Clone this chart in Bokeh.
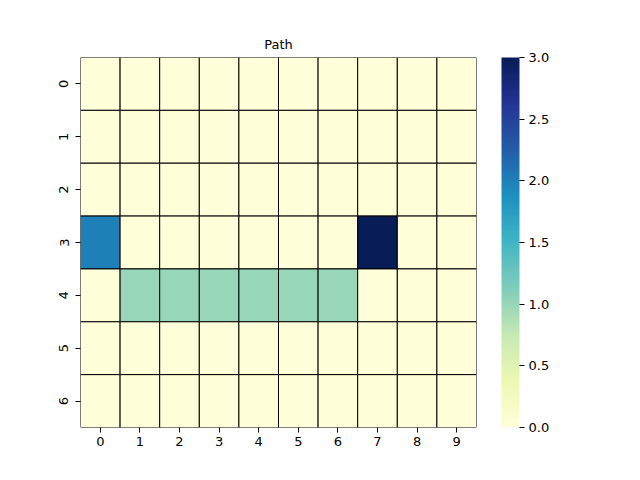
from bokeh.plotting import figure
from bokeh.models import (ColumnDataSource, LinearColorMapper, ColorBar, FixedTicker,
                          PrintfTickFormatter, Range1d)
from bokeh.transform import transform
from bokeh.embed import file_html
from bokeh.resources import INLINE

# --- data ---
row_labels = ["0", "1", "2", "3", "4", "5", "6"]
col_labels = ["0", "1", "2", "3", "4", "5", "6", "7", "8", "9"]
row0 = [0, 0, 0, 0, 0, 0, 0, 0, 0, 0]
row1 = [0, 0, 0, 0, 0, 0, 0, 0, 0, 0]
row2 = [0, 0, 0, 0, 0, 0, 0, 0, 0, 0]
row3 = [2, 0, 0, 0, 0, 0, 0, 3, 0, 0]
row4 = [0, 1, 1, 1, 1, 1, 1, 0, 0, 0]
row5 = [0, 0, 0, 0, 0, 0, 0, 0, 0, 0]
row6 = [0, 0, 0, 0, 0, 0, 0, 0, 0, 0]
rows_values = [row0, row1, row2, row3, row4, row5, row6]
cbar_ticks = [0.0, 0.5, 1.0, 1.5, 2.0, 2.5, 3.0]

# --- YlGnBu colormap (light -> dark), interpolated to 256 ---
base = ['#ffffd9', '#edf8b1', '#c7e9b4', '#7fcdbb', '#41b6c4',
        '#1d91c0', '#225ea8', '#253494', '#081d58']
def h2rgb(h):
    return [int(h[i:i + 2], 16) for i in (1, 3, 5)]
rgb = [h2rgb(c) for c in base]
palette = []
for k in range(256):
    t = k / 255 * (len(rgb) - 1)
    i = min(int(t), len(rgb) - 2)
    f = t - i
    c = [round(rgb[i][j] * (1 - f) + rgb[i + 1][j] * f) for j in range(3)]
    palette.append('#%02x%02x%02x' % tuple(c))

xs, ys, vs = [], [], []
for r, rowv in enumerate(rows_values):
    for c, v in enumerate(rowv):
        xs.append(c + 0.5)
        ys.append(r + 0.5)
        vs.append(v)
src = ColumnDataSource(dict(x=xs, y=ys, v=vs))

mapper = LinearColorMapper(palette=palette, low=0, high=3)

p = figure(width=632, height=472, output_backend="svg", toolbar_location=None,
           x_range=Range1d(0, len(col_labels)), y_range=Range1d(len(row_labels), 0),
           title="Path", min_border_left=80, min_border_right=156,
           min_border_top=57, min_border_bottom=45)
p.rect(x='x', y='y', width=1, height=1, source=src,
       fill_color=transform('v', mapper), line_color="black", line_width=1)

p.title.align = "center"
p.title.text_font = "DejaVu Sans"
p.title.text_font_size = "13px"
p.title.text_font_style = "normal"
p.title.text_color = "black"
p.title.offset = 0
p.title.standoff = 11

p.xgrid.visible = False
p.ygrid.visible = False
p.outline_line_color = None

for ax, labels in ((p.xaxis[0], col_labels), (p.yaxis[0], row_labels)):
    ax.ticker = FixedTicker(ticks=[i + 0.5 for i in range(len(labels))])
    ax.major_label_overrides = {i + 0.5: lab for i, lab in enumerate(labels)}
    ax.axis_line_color = None
    ax.minor_tick_line_color = None
    ax.major_tick_in = 0
    ax.major_tick_out = 5
    ax.major_tick_line_color = "black"
    ax.major_label_text_font = "DejaVu Sans"
    ax.major_label_text_font_size = "13px"
    ax.major_label_text_color = "black"
    ax.major_label_standoff = 4
p.yaxis[0].major_label_orientation = "vertical"
p.yaxis[0].major_label_standoff = 7

cb = ColorBar(color_mapper=mapper, width=18, height=370,
              ticker=FixedTicker(ticks=cbar_ticks),
              formatter=PrintfTickFormatter(format="%.1f"),
              major_tick_in=0, major_tick_out=5, major_tick_line_color="black",
              major_label_text_font="DejaVu Sans", major_label_text_font_size="13px",
              major_label_text_color="black", label_standoff=4,
              bar_line_color=None, border_line_color=None, background_fill_alpha=0,
              padding=0, margin=0, location=(25, 0))
p.add_layout(cb, "right")

open("out.html", "w").write(file_html(p, INLINE))
